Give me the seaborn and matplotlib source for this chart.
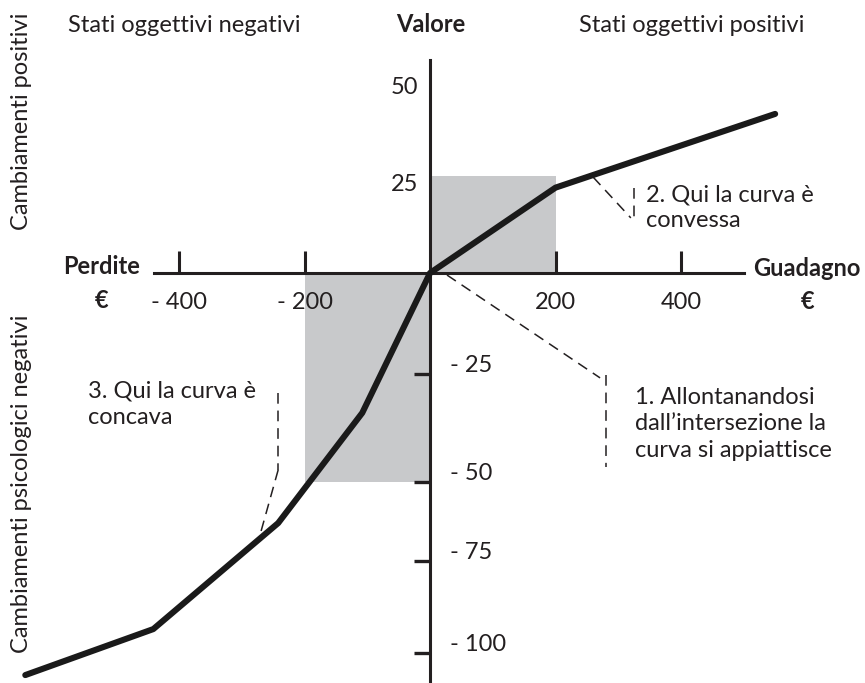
import numpy as np
import seaborn as sns
import matplotlib.pyplot as plt

sns.set_style('white')
plt.rcParams['font.family'] = ['Lato', 'DejaVu Sans']

# curva del valore: euro guadagnati/persi -> valore psicologico
euro = [-645, -441, -242, -108, 0, 200, 550]
valore = [-106, -93.5, -63, -34, 0, 22, 41]

x_ticks = [-400, -200, 200, 400]
x_labels = ['- 400', '- 200', '200', '400']
y_ticks_neg = [-25, -50, -75, -100]
y_labels_neg = ['- 25', '- 50', '- 75', '- 100']
y_ticks_pos = [25, 50]
y_labels_pos = ['25', '50']

# rettangoli grigi (guadagno 200 -> +25, perdita 200 -> -50)
box_gain_x = [0, 200]
box_gain_y = 25
box_loss_x = [-200, 0]
box_loss_y = -50

# l'asse verticale originale e' disegnato a mano: passi non uniformi
scala_val = [-200, -100, -75, -50, -25, 0, 25, 50, 100]
scala_pos = [-748, -380, -288, -209, -101, 0, 97, 194, 388]


def fwd(v):
    return np.interp(v, scala_val, scala_pos)


def inv(p):
    return np.interp(p, scala_pos, scala_val)


W, H = 865, 683
ink = '#231f20'
grigio = '#c8c9cb'
fs = 17


def px(x, y):
    return x / W, 1 - y / H


fig = plt.figure(figsize=(W / 100, H / 100), dpi=100)
ax = fig.add_axes([0, 0, 1, 1])
ax.set_yscale('function', functions=(fwd, inv))
ax.set_xlim(-685.3, 693.2)
ax.set_ylim(inv(-410), inv(273))

ax.fill_between(box_gain_x, 0, box_gain_y, color=grigio, lw=0, zorder=0)
ax.fill_between(box_loss_x, box_loss_y, 0, color=grigio, lw=0, zorder=0)

sns.lineplot(x=euro, y=valore, sort=False, estimator=None, color='#1a1a1a',
             lw=4.4, ax=ax, zorder=4)

# assi che si incrociano nell'origine
for s in ['top', 'right']:
    ax.spines[s].set_visible(False)
ax.spines['left'].set_position(('data', 0))
ax.spines['bottom'].set_position(('data', 0))
ax.spines['bottom'].set_bounds(-440, 500)
ax.spines['left'].set_bounds(inv(-410), 54.9)
for s in ['left', 'bottom']:
    ax.spines[s].set_linewidth(2.2)
    ax.spines[s].set_color(ink)
    ax.spines[s].set_zorder(3)

ax.set_xticks(x_ticks, x_labels)
ax.set_yticks(y_ticks_neg)
ax.tick_params(axis='x', bottom=True, direction='in', length=16, width=2.2,
               color=ink, labelsize=fs, labelcolor=ink, pad=14)
ax.tick_params(axis='y', left=True, direction='out', length=11.5, width=2.4,
               color=ink, labelleft=False)
ax.minorticks_off()

for v, lab in zip(y_ticks_neg, y_labels_neg):
    ax.annotate(lab, (0, v), xytext=(14.4, 5.8), textcoords='offset points',
                ha='left', va='center', fontsize=fs, color=ink)
for v, lab in zip(y_ticks_pos, y_labels_pos):
    ax.annotate(lab, (0, v), xytext=(-8.6, -5.8), textcoords='offset points',
                ha='right', va='center', fontsize=fs, color=ink)

# linee tratteggiate di richiamo
dash = dict(color=ink, lw=1.1, ls=(0, (7, 4.5)), zorder=2)
ax.plot([27, 271], [-0.5, -25.9], **dash)
ax.plot([280.5, 280.5], [-25.2, -46.5], **dash)
ax.plot([260, 320], [24.7, 14.2], **dash)
ax.plot([325, 325], [21.9, 13.1], **dash)
ax.plot([-242, -242], [-29.4, -47.2], **dash)
ax.plot([-242, -271], [-47.2, -66.8], **dash)

txt = dict(fontsize=fs, color=ink)
fig.text(*px(184, 25), 'Stati oggettivi negativi', ha='center', va='center', **txt)
fig.text(*px(431, 25), 'Valore', ha='center', va='center', weight='bold', **txt)
fig.text(*px(692, 25), 'Stati oggettivi positivi', ha='center', va='center', **txt)
fig.text(*px(22, 121), 'Cambiamenti positivi', ha='center', va='center',
         rotation=90, **txt)
fig.text(*px(22, 484), 'Cambiamenti psicologici negativi', ha='center',
         va='center', rotation=90, **txt)
fig.text(*px(102, 267), 'Perdite', ha='center', va='center', weight='bold', **txt)
fig.text(*px(102, 300), '€', ha='center', va='center', weight='bold', **txt)
fig.text(*px(807, 268), 'Guadagno', ha='center', va='center', weight='bold', **txt)
fig.text(*px(808, 302), '€', ha='center', va='center', weight='bold', **txt)

fig.text(*px(646, 208), '2. Qui la curva è\nconvessa', ha='left', va='center',
         linespacing=1.25, **txt)
fig.text(*px(635, 424), '1. Allontanandosi\ndall’intersezione la\ncurva si appiattisce',
         ha='left', va='center', linespacing=1.32, **txt)
fig.text(*px(88, 404), '3. Qui la curva è\nconcava', ha='left', va='center',
         linespacing=1.3, **txt)

fig.savefig('out.png', dpi=100)
